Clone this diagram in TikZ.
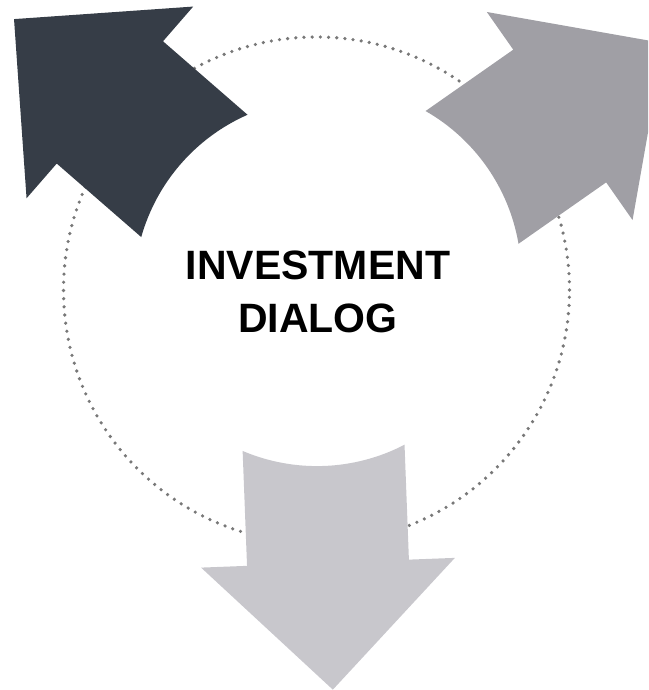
\documentclass[tikz,border=0pt]{standalone}
\usepackage{fontspec}
\setmainfont{Liberation Sans}
\usetikzlibrary{positioning}
\definecolor{investdark}{RGB}{54,61,71}
\definecolor{investmid}{RGB}{160,159,165}
\definecolor{investlight}{RGB}{200,199,204}
\definecolor{investdot}{RGB}{120,120,120}

\begin{document}
\begin{tikzpicture}[x=1pt,y=1pt,
                    dots/.style={investdot,line width=3.6pt,line cap=round,dash pattern=on 0pt off 8.2pt},
                    title/.style={font=\bfseries\fontsize{41}{48}\selectfont,inner sep=0pt,anchor=base}]
\clip (0,0) rectangle (648,690);
\coordinate (ctr) at (316.5,400);
\draw[dots] (ctr) circle[radius=253];
\foreach \ang/\tl/\hb/\off/\col in {139/167/279/-6/investdark,
                                    35/192/299/3/investmid,
                                    -87.8/158/273/1/investlight}
	\fill[\col,shift={(ctr)},rotate=\ang,yshift=\off]
		(\tl,-81) arc[start angle=-25.24,end angle=25.24,radius=190]
		-- (\hb,81) -- (\hb,127) -- ({\hb+127},0) -- (\hb,-127) -- (\hb,-81) -- cycle;
\node[title] (invest) at (318,410) {INVESTMENT};
\node[title] (dialog) at ([yshift=-53pt]invest.base) {DIALOG};
\end{tikzpicture}
\end{document}
